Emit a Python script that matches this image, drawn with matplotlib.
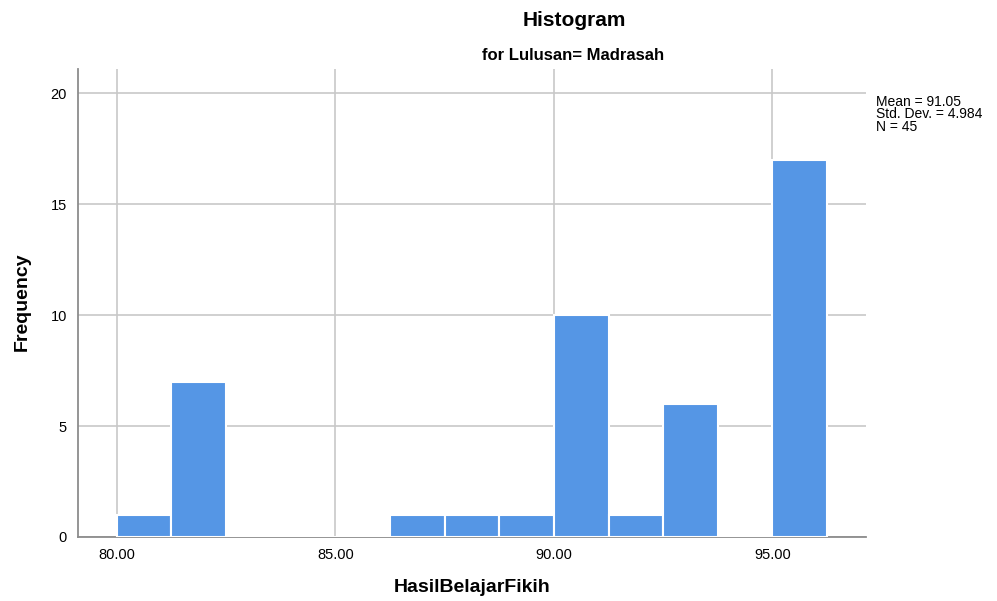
import numpy as np
import matplotlib.pyplot as plt

plt.rcParams['font.family'] = ['Liberation Sans', 'DejaVu Sans']

# histogram bins (width 1.25) and counts
bin_edges = [80.0, 81.25, 82.5, 83.75, 85.0, 86.25, 87.5, 88.75, 90.0,
             91.25, 92.5, 93.75, 95.0, 96.25]
counts = [1, 7, 0, 0, 0, 1, 1, 1, 10, 1, 6, 0, 17]

x_ticks = [80, 85, 90, 95]
x_tick_labels = ["80.00", "85.00", "90.00", "95.00"]
y_ticks = [0, 5, 10, 15, 20]

stats_text = "Mean = 91.05\nStd. Dev. = 4.984\nN = 45"

BAR_COLOR = "#5596e5"
GRID_COLOR = "#c8c8c8"

fig = plt.figure(figsize=(9.97, 6.01), dpi=100)
ax = fig.add_axes([0.0782, 0.1065, 0.7904, 0.7785])

lefts = np.array(bin_edges[:-1])
widths = np.diff(bin_edges)
ax.bar(lefts, counts, width=widths, align='edge', color=BAR_COLOR,
       edgecolor='white', linewidth=1.5, zorder=3)

ax.set_xlim(79.11, 97.14)
ax.set_ylim(0, 21.08)
ax.set_xticks(x_ticks)
ax.set_xticklabels(x_tick_labels)
ax.set_yticks(y_ticks)
ax.grid(True, color=GRID_COLOR, linewidth=1.2, zorder=0)
ax.tick_params(length=0, labelsize=10.5, pad=8)

for s in ['top', 'right']:
    ax.spines[s].set_visible(False)
for s in ['left', 'bottom']:
    ax.spines[s].set_color('#8c8c8c')
    ax.spines[s].set_linewidth(1.3)

fig.text(0.474, 1 - 588 / 601, "HasilBelajarFikih", ha='center', va='center',
         fontsize=14, fontweight='bold')
fig.text(22 / 997, 1 - 302 / 601, "Frequency", ha='center', va='center',
         rotation=90, fontsize=14, fontweight='bold')

fig.text(0.576, 1 - 20 / 601, "Histogram", ha='center', va='center',
         fontsize=15, fontweight='bold')
fig.text(0.575, 1 - 56 / 601, "for Lulusan= Madrasah", ha='center',
         va='center', fontsize=12, fontweight='bold')
fig.text(0.879, 1 - 95 / 601, stats_text, ha='left', va='top', fontsize=10,
         linespacing=0.85)

plt.savefig("out.png", dpi=100)
